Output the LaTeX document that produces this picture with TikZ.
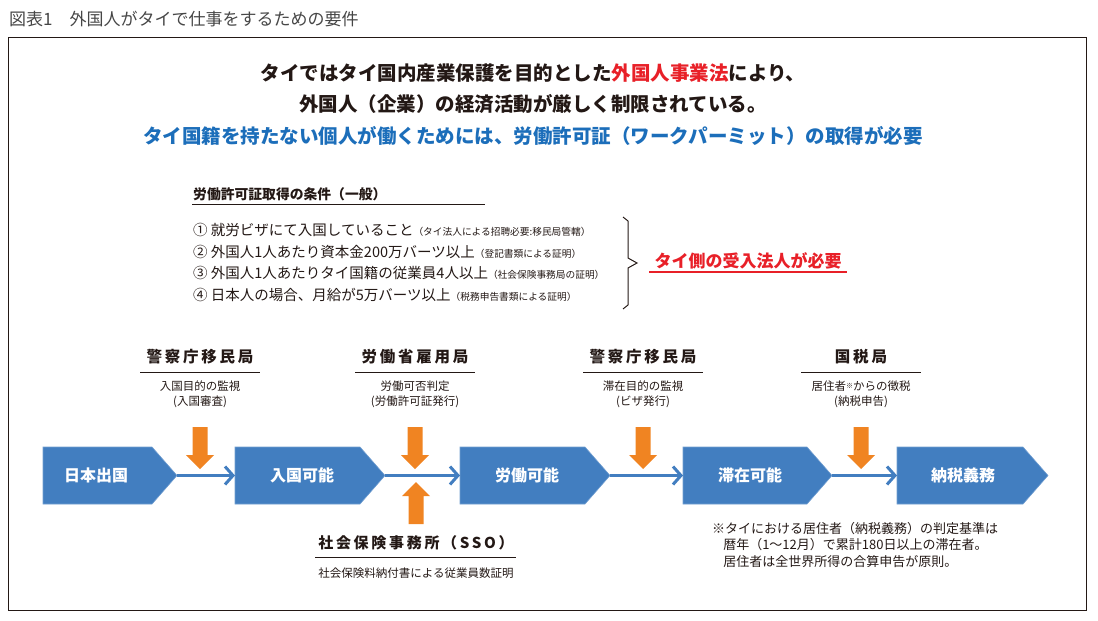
\documentclass[tikz,border=0pt]{standalone}
\usepackage{fontspec}
\setmainfont{Noto Sans CJK JP}
\newfontfamily\spacedjp{Noto Sans CJK JP}[LetterSpace=18]
\usetikzlibrary{arrows.meta}
\definecolor{flowblue}{RGB}{66,126,192}
\definecolor{headblue}{RGB}{28,110,186}
\definecolor{textred}{RGB}{232,32,40}
\definecolor{govorange}{RGB}{240,132,34}
\definecolor{ink}{RGB}{35,24,21}
\definecolor{titlegray}{RGB}{70,70,70}
\newcommand{\jpsize}[1]{\fontsize{#1}{#1}\selectfont}

\tikzset{
  lead/.style={font=\bfseries\jpsize{19.5}, text=ink, inner sep=0pt},
  agency/.style={font=\spacedjp\bfseries\jpsize{15.5}, text=ink, inner sep=0pt},
  duty/.style={font=\fontsize{11.5}{15}\selectfont, align=center, text=ink, inner sep=0pt},
  cond/.style={font=\jpsize{14.5}, text=ink, inner sep=0pt, anchor=west},
  stepshape/.style={fill=flowblue, draw=flowblue!75!white, line width=0.6pt},
  steplabel/.style={font=\bfseries\jpsize{16}, text=white, inner sep=0pt},
  flow/.style={draw=flowblue, line width=3pt, -{Straight Barb[length=8pt,width=18pt]}},
  rule/.style={draw=ink, line width=0.9pt},
  pics/govdown/.style={code={
    \fill[govorange] (-7.5,0) -- (7.5,0) -- (7.5,28) -- (14,28) -- (0,42) -- (-14,28) -- (-7.5,28) -- cycle;}}
}
\newcommand{\proof}[1]{{\jpsize{9.7}（#1）}}

\begin{document}
\begin{tikzpicture}[x=1pt,y=-1pt]
\useasboundingbox (0,0) rectangle (1098,621);

\node[anchor=west, inner sep=0pt, text=titlegray, font=\jpsize{17}] (title) at (9,19) {図表1\hspace{1em}外国人がタイで仕事をするための要件};
\draw[line width=1pt, draw=ink] (8,37) rectangle (1086,610);

\node[lead] (lead1) at (533,73) {タイではタイ国内産業保護を目的とした{\color{textred}外国人事業法}により、};
\node[lead] (lead2) at (533,104) {外国人（企業）の経済活動が厳しく制限されている。};
\node[lead, text=headblue] (lead3) at (533,136) {タイ国籍を持たない個人が働くためには、労働許可証（ワークパーミット）の取得が必要};

\node[cond, font=\bfseries\jpsize{13.8}] (condhead) at (193,194) {労働許可証取得の条件（一般）};
\draw[rule] (192,204) -- (485,204);
\node[cond] (cond1) at (193,230) {① 就労ビザにて入国していること\proof{タイ法人による招聘必要:移民局管轄}};
\node[cond] (cond2) at (193,251.7) {② 外国人1人あたり資本金200万バーツ以上\proof{登記書類による証明}};
\node[cond] (cond3) at (193,273.4) {③ 外国人1人あたりタイ国籍の従業員4人以上\proof{社会保険事務局の証明}};
\node[cond] (cond4) at (193,295.1) {④ 日本人の場合、月給が5万バーツ以上\proof{税務申告書類による証明}};
\draw[line width=1pt, draw=ink] (623,217) -- (628,221) -- (628,258) -- (637,263) -- (628,268) -- (628,305) -- (623,309);
\node[inner sep=0pt, text=textred, font=\bfseries\jpsize{17}] (host) at (748,261) {タイ側の受入法人が必要};
\draw[draw=textred, line width=1.3pt] (649,272) -- (847,272);

\foreach \i/\x/\name/\duty in {1/200/警察庁移民局/{入国目的の監視\\(入国審査)},
    2/415/労働省雇用局/{労働可否判定\\(労働許可証発行)},
    3/643/警察庁移民局/{滞在目的の監視\\(ビザ発行)},
    4/861/国税局/{居住者\raisebox{2pt}{\jpsize{7}※}からの徴税\\(納税申告)}} {
  \node[agency] (gov\i) at (\x,357) {\name};
  \draw[rule] (\x-60,372) -- (\x+60,372);
  \node[duty] (duty\i) at (\x,394.5) {\duty};
  \pic at (\x,427) {govdown};
}

\foreach \i/\xa/\xb/\tx/\lab in {1/43/177/96/日本出国, 2/235/385/302/入国可能, 3/460/610/527/労働可能, 4/683/832/750/滞在可能, 5/897/1048/963/納税義務} {
  \path[stepshape] (\xa,447) -- (\xb-25,447) -- (\xb,475.5) -- (\xb-25,504) -- (\xa,504) -- cycle;
  \node[steplabel] (step\i) at (\tx,475.5) {\lab};
  \coordinate (in\i) at (\xa,475.5);
  \coordinate (out\i) at (\xb,475.5);
}
\foreach \i/\j in {1/2,2/3,3/4,4/5}
  \draw[flow] (out\i) -- (in\j);

\pic[rotate=180] at (416,524) {govdown};
\node[agency, font=\spacedjp\bfseries\jpsize{15}] (sso) at (416,543) {社会保険事務所（SSO）};
\draw[rule] (315,557) -- (516,557);
\node[duty] (ssoduty) at (416,573) {社会保険料納付書による従業員数証明};

\node[anchor=north west, align=left, inner sep=0pt, text=ink, font=\fontsize{13}{16.5}\selectfont] (note) at (712,522)
  {※タイにおける居住者（納税義務）の判定基準は\\\hspace*{0.85em}暦年（1〜12月）で累計180日以上の滞在者。\\\hspace*{0.85em}居住者は全世界所得の合算申告が原則。};
\end{tikzpicture}
\end{document}
